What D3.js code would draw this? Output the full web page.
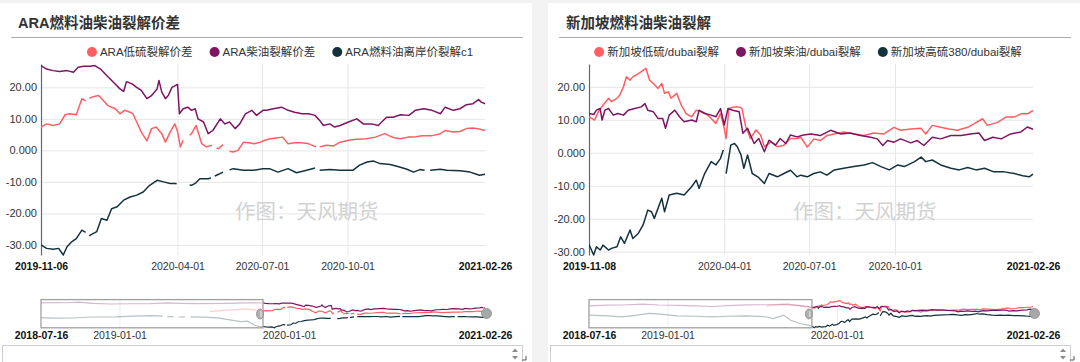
<!DOCTYPE html>
<html>
<head>
<meta charset="utf-8">
<script src="https://cdn.jsdelivr.net/npm/d3@7"></script>
<style>
  body { margin: 0; background: #f3f3f3; overflow: hidden; }
  svg { display: block; font-family: Arial, "Liberation Sans", "Noto Sans CJK SC", sans-serif; }
</style>
</head>
<body>
<svg id="chart" width="1080" height="362"></svg>
<script>
// Two crack-spread panels (ARA / Singapore), each with a date-zoom slider underneath.
// Series are [days since window start, value]; null breaks the line.

const HIST_START = "2018-07-16";
const END_DATE = "2021-02-26";

const LEFT_TITLE = "ARA燃料油柴油裂解价差";
const LEFT_NAMES = ["ARA低硫裂解价差", "ARA柴油裂解价差", "ARA燃料油离岸价裂解c1"];
const LEFT_START = "2019-11-06";
const LEFT_TICKS = ["2019-11-06", "2020-04-01", "2020-07-01", "2020-10-01", "2021-02-26"];

const RIGHT_TITLE = "新加坡燃料油柴油裂解";
const RIGHT_NAMES = ["新加坡低硫/dubai裂解", "新加坡柴油/dubai裂解", "新加坡高硫380/dubai裂解"];
const RIGHT_START = "2019-11-08";
const RIGHT_TICKS = ["2019-11-08", "2020-04-01", "2020-07-01", "2020-10-01", "2021-02-26"];

const SLIDER_TICKS = ["2018-07-16", "2019-01-01", "2020-01-01", "2021-02-26"];
const Y_TICKS = [-30, -20, -10, 0, 10, 20];
const Y_LABELS = ["-30.00", "-20.00", "-10.00", "0.000", "10.00", "20.00"];
const LEFT_Y = [-33.2, 27.4];
const RIGHT_Y = [-31.0, 26.9];
const LEFT_SLIDER_Y = [-33.2, 35.1];
const RIGHT_SLIDER_Y = [-31.0, 27.7];

const COLORS = ["#ff5e62", "#7e1563", "#14323d"];
const WATERMARK = "作图：天风期货";

// --- ARA, days since 2019-11-06 ---
const ARA_LOW = [[0,7.4],[6,8.4],[13,7.9],[20,8.4],[26,11.3],[31,11.6],[38,11.3],[44,16.4],[48,15.6],[50,null],[52,16.5],[55,16.9],[62,17.4],[67,15.8],[72,14.2],[80,13.2],[85,11.6],[90,12.7],[96,12.1],[99,11.6],[103,9],[108,5.8],[114,3],[119,6.9],[124,7.4],[130,5.3],[134,2.6],[139,5.8],[144,8.4],[147,6],[150,1.1],[153,3.2],[156,null],[160,4.8],[162,5.3],[167,7.9],[173,2.1],[178,1.1],[184,1.6],[186,null],[189,0.8],[191,0.5],[196,1.8],[198,null],[203,-0.3],[207,-0.5],[212,0],[218,2.6],[224,2.4],[229,2.1],[236,2.6],[241,3.2],[247,3.7],[255,4.0],[260,4.2],[266,2.1],[273,2.4],[280,2.4],[287,2.2],[293,1.5],[296,1.1],[298,null],[300,1.1],[307,1.6],[315,1.4],[322,2.6],[331,3.2],[340,3.5],[350,3.7],[360,4.2],[370,5.3],[375,4.6],[380,4.0],[387,3.7],[395,4.2],[401,4.2],[410,4.6],[420,4.6],[430,5.3],[435,6.3],[444,5.8],[451,6.0],[458,6.9],[465,7.1],[472,6.8],[478,6.3]];
const ARA_DIESEL = [[0,26.9],[6,25.8],[13,25.3],[20,25],[28,25.3],[35,24.8],[40,26.4],[46,26.7],[53,26.7],[58,26.9],[64,25.8],[71,23.7],[78,21.6],[85,19.5],[89,18.7],[92,21.8],[98,21.1],[103,20],[108,19],[114,16.4],[119,17.4],[125,19.5],[127,22.2],[130,18.5],[134,16.4],[137,17.4],[141,20],[146,20.8],[147,20.9],[149,11.6],[153,13.2],[158,13.7],[162,12.7],[166,13.2],[169,10],[175,9],[180,5.3],[185,6.3],[193,10],[198,8.4],[203,9],[209,6.9],[214,8.4],[220,11.6],[227,12.7],[232,11.1],[239,12.7],[243,12.7],[250,13.2],[259,13.7],[266,12.7],[273,12.1],[281,11.6],[288,11.6],[295,11.1],[300,9.5],[304,7.9],[311,8.4],[316,7.4],[322,7.9],[331,9],[340,10],[347,8.4],[356,8.4],[363,7.9],[372,10.5],[379,10.5],[387,11.3],[396,11.1],[403,12.7],[412,13.2],[421,12.7],[430,11.6],[435,13.7],[444,12.7],[451,13.2],[458,14.5],[465,14.8],[471,16.1],[474,15.3],[478,14.8]];
const ARA_FO = [[0,-30],[6,-31.1],[13,-31.4],[19,-31.1],[24,-33.2],[28,-30.6],[33,-29],[38,-28],[44,-25.3],[48,-26],[49,null],[52,-27.2],[53,-26.9],[60,-25.8],[65,-21.6],[71,-22.2],[76,-18.5],[82,-17.9],[89,-15.8],[96,-14.8],[103,-14.2],[110,-13.2],[117,-11.1],[125,-9.5],[132,-10],[139,-10.5],[144,-10.5],[146,-10.6],[147,null],[160,-11],[162,-11.1],[166,-10.5],[171,-9],[180,-9],[183,-8.8],[184,null],[187,-8.2],[189,-7.9],[196,-6.9],[198,null],[203,-6.2],[207,-5.8],[218,-6.3],[229,-6.3],[239,-5.8],[246,-5.8],[255,-6.9],[266,-5.8],[275,-7.1],[286,-6.3],[295,-5.6],[297,null],[300,-6.3],[311,-6.1],[322,-6.3],[336,-6.3],[343,-4.7],[351,-3.7],[358,-3.4],[365,-4.2],[376,-4.5],[386,-5.3],[394,-6],[401,-6.9],[408,-6.1],[413,-6.3],[414,null],[419,-6.3],[430,-6],[437,-6.3],[451,-6.5],[462,-6.9],[472,-7.9],[478,-7.6]];

// --- ARA history for the slider, days since 2018-07-16 ---
const ARA_LOW_HIST = [[363,6.2],[380,8],[400,9.5],[420,11],[440,12.5],[460,10],[478,7.4]];
const ARA_DIESEL_HIST = [[0,27],[27,28],[56,27.5],[81,29],[111,26],[150,24.5],[190,25],[237,25.5],[270,27],[300,26],[340,25.5],[400,26],[440,27],[478,26.9]];
const ARA_FO_HIST = [[0,-8.5],[27,-10],[64,-9.5],[111,-7],[160,-6.5],[200,-5],[237,-3.8],[262,-5],[264,null],[272,-6],[285,-6.2],[287,null],[296,-7],[310,-6.8],[312,null],[322,-6.5],[350,-7.5],[380,-9],[410,-14.6],[430,-18],[445,-17],[460,-27],[470,-30],[478,-30]];

// --- Singapore, days since 2019-11-08 ---
const SG_LOW = [[0,10.9],[3,10.4],[6,9.9],[10,12.4],[15,14.4],[21,16.5],[24,15.5],[30,16.5],[33,17.5],[37,20],[40,23],[44,22],[47,23],[53,24],[58,25],[61,25.6],[65,22],[69,21],[74,19.5],[78,21],[81,18],[85,18.5],[88,16.5],[94,18],[99,14.4],[104,11.9],[110,10.9],[115,12.9],[120,12.4],[125,11.9],[131,10.4],[136,8.9],[141,11.9],[145,7.4],[147,4.3],[150,13.4],[156,13.9],[161,13.9],[164,13.4],[168,7.9],[173,4.3],[179,6.9],[184,5.4],[188,1.8],[195,3.3],[202,1.8],[209,2.3],[216,4.3],[223,4.3],[227,4.7],[234,1.7],[241,4.2],[248,3.7],[255,5.2],[263,5.7],[273,6.3],[284,5.7],[295,5.2],[305,6],[316,5.7],[327,7.7],[334,6.8],[345,7.2],[356,7.4],[361,5.7],[368,8.3],[377,7.7],[386,7.2],[395,6.8],[406,7.7],[413,8.8],[422,10.3],[427,8.3],[438,9.2],[447,10.8],[456,10.8],[463,11.8],[470,11.8],[476,12.8]];
const SG_GASOIL = [[0,11.9],[5,11.6],[8,12.9],[12,13.4],[14,9.9],[17,12.9],[21,13.4],[26,11.4],[31,11.9],[37,11.4],[42,12.9],[49,13.4],[56,13.9],[60,14.9],[63,12.9],[69,12.4],[74,10.4],[79,10.4],[82,7.4],[86,11.4],[92,12.9],[97,10.9],[102,9.4],[110,9.9],[115,9.4],[118,12.9],[124,11.9],[131,11.4],[136,10.9],[141,13.4],[145,8.4],[149,13.4],[154,12.9],[161,12.4],[165,5.9],[170,7.4],[177,2.8],[182,4.3],[188,0.3],[193,3.8],[200,2.3],[205,4.3],[211,2.8],[216,5.4],[223,4.8],[230,5.4],[238,5.7],[248,5.2],[259,6.8],[270,5.7],[280,6],[291,5.2],[302,4.7],[309,4.2],[315,2.2],[320,3.7],[327,3.2],[334,4.2],[345,3],[352,3.7],[359,2.2],[368,4.7],[377,4.2],[388,5.2],[399,5.2],[409,5.7],[418,6],[424,3.7],[433,4.7],[442,4.2],[452,5.7],[463,6.3],[470,7.8],[476,7.1]];
const SG_HSFO = [[0,-27.8],[5,-31],[8,-28.5],[12,-29.5],[15,-28],[21,-29.5],[24,-29],[30,-28.5],[34,-25.5],[38,-27.5],[44,-23.4],[47,-26],[53,-24.4],[58,-21.9],[63,-17.4],[67,-17.9],[70,-19.9],[78,-13.8],[81,-17.9],[86,-12.8],[94,-12.3],[102,-12.8],[110,-10.3],[115,-8.3],[118,-10.8],[124,-6.3],[131,-2.7],[136,-3.7],[141,-1.7],[144,0.8],[145,null],[147,-6.3],[152,2.3],[156,2.8],[159,1.8],[163,-0.7],[166,-4.7],[170,-0.7],[175,-6.3],[181,-7.3],[188,-9.3],[193,-6.3],[202,-7.3],[209,-6.3],[216,-5.3],[223,-7.3],[227,-6.8],[234,-7.3],[241,-6.3],[248,-5.8],[255,-6.8],[263,-5.2],[273,-4.7],[284,-4.2],[295,-3.7],[304,-3],[313,-4.2],[322,-5.2],[331,-3.7],[338,-4.2],[349,-2.7],[356,-1.3],[361,-2.7],[368,-2.2],[377,-3.7],[388,-4.7],[397,-5.2],[406,-4.5],[415,-5.2],[424,-4.7],[434,-5.8],[445,-5.8],[456,-6.3],[465,-7],[472,-7.3],[476,-6.5]];

// --- Singapore history for the slider, days since 2018-07-16 ---
const SG_LOW_HIST = [[382,14],[400,15.5],[420,17],[450,15],[480,10.9]];
const SG_GASOIL_HIST = [[0,14.8],[40,16],[71,16.5],[116,18.4],[150,16.5],[190,15.5],[230,14.5],[264,13.3],[300,15],[338,16.9],[380,17],[427,18.3],[455,15],[480,11.9]];
const SG_HSFO_HIST = [[0,-4.6],[40,-6],[71,-8.1],[100,-5],[130,-1],[160,-3],[190,-6],[230,-7],[264,-8.1],[300,-7],[338,-6],[380,-8],[397,-11.7],[419,-4.6],[434,-15.3],[456,-22.5],[470,-25],[480,-27.8]];

const parse = d3.timeParse("%Y-%m-%d");
const fmt = d3.timeFormat("%Y-%m-%d");
const toPoints = (base, pairs) => {
  const b = parse(base);
  return pairs.map(([d, v]) => ({ date: d3.timeDay.offset(b, d), v }));
};

const svg = d3.select("#chart");
svg.append("rect").attr("width", 1080).attr("height", 362).attr("fill", "#f3f3f3");

const panels = [
  { ox: 0, title: LEFT_TITLE, names: LEFT_NAMES, start: LEFT_START, ticks: LEFT_TICKS,
    series: [ARA_LOW, ARA_DIESEL, ARA_FO], hist: [ARA_LOW_HIST, ARA_DIESEL_HIST, ARA_FO_HIST],
    yDomain: LEFT_Y, sliderDomain: LEFT_SLIDER_Y, legendCx: 280, markX: 235 },
  { ox: 548, title: RIGHT_TITLE, names: RIGHT_NAMES, start: RIGHT_START, ticks: RIGHT_TICKS,
    series: [SG_LOW, SG_GASOIL, SG_HSFO], hist: [SG_LOW_HIST, SG_GASOIL_HIST, SG_HSFO_HIST],
    yDomain: RIGHT_Y, sliderDomain: RIGHT_SLIDER_Y, legendCx: 808, markX: 793 },
];

panels.forEach((p, pi) => drawPanel(p, pi));

function drawPanel(p, pi) {
  const ox = p.ox;
  const g = svg.append("g");
  const left = ox + 41, right = ox + 485, top = 64, bottom = 255;

  g.append("rect").attr("x", ox).attr("y", 3).attr("width", 532).attr("height", 362).attr("fill", "#fff");

  // title + rule
  g.append("text").attr("x", ox + 18).attr("y", 28)
    .attr("font-size", 14.5).attr("font-weight", "bold").attr("fill", "#333").text(p.title);
  g.append("line").attr("x1", ox + 11).attr("x2", ox + 523).attr("y1", 37.5).attr("y2", 37.5)
    .attr("stroke", "#aaa").attr("stroke-width", 1);

  // legend
  const lg = g.append("g");
  let cx = 0;
  p.names.forEach((name, i) => {
    const item = lg.append("g").attr("transform", `translate(${cx},0)`);
    item.append("circle").attr("cx", 5).attr("cy", 52).attr("r", 5).attr("fill", COLORS[i]);
    const t = item.append("text").attr("x", 13).attr("y", 56).attr("font-size", 11.5)
      .attr("fill", "#333").text(name);
    cx += 13 + t.node().getComputedTextLength() + 17;
  });
  const lw = cx - 17;
  lg.attr("transform", `translate(${p.legendCx - lw / 2},0)`);

  // scales
  const x = d3.scaleTime().domain([parse(p.start), parse(END_DATE)]).range([left, right]);
  const y = d3.scaleLinear().domain(p.yDomain).range([bottom, top]);
  const tickDates = p.ticks.map(parse);

  // grid
  g.append("g").attr("transform", `translate(${left},0)`)
    .call(d3.axisLeft(y).tickValues(Y_TICKS).tickSize(-(right - left)).tickFormat(""))
    .call(a => a.select(".domain").remove())
    .selectAll("line").attr("stroke", "#e6e6e6");
  g.append("g").attr("transform", `translate(0,${bottom})`)
    .call(d3.axisBottom(x).tickValues(tickDates.slice(1, -1)).tickSize(-(bottom - top)).tickFormat(""))
    .call(a => a.select(".domain").remove())
    .selectAll("line").attr("stroke", "#e6e6e6");

  // watermark
  g.append("text").attr("x", ox === 0 ? p.markX : p.markX).attr("y", 219)
    .attr("font-size", 20.5).attr("fill", "#d2d2d2").text(WATERMARK);

  // y axis
  const ya = g.append("g").attr("transform", `translate(${left},0)`)
    .call(d3.axisLeft(y).tickValues(Y_TICKS).tickFormat((d, i) => Y_LABELS[i])
      .tickSize(0).tickSizeOuter(0).tickPadding(4));
  ya.select(".domain").attr("stroke", "#666").attr("stroke-width", 1.2);
  ya.selectAll("text").attr("font-size", 11).attr("fill", "#333")
    .style("font-family", "Arial, 'Liberation Sans', sans-serif");

  // x axis labels
  const xa = g.append("g").attr("transform", `translate(0,${bottom})`)
    .call(d3.axisBottom(x).tickValues(tickDates).tickFormat(fmt).tickSize(0).tickPadding(8));
  xa.select(".domain").remove();
  xa.selectAll("text").attr("font-size", 10.5).attr("fill", "#333")
    .style("font-family", "Arial, 'Liberation Sans', sans-serif")
    .attr("font-weight", (d, i) => (i === 0 || i === tickDates.length - 1) ? "bold" : "normal")
    .attr("fill", (d, i) => (i === 0 || i === tickDates.length - 1) ? "#111" : "#333");

  // lines
  const clipId = `clip${pi}`;
  g.append("clipPath").attr("id", clipId).append("rect")
    .attr("x", left).attr("y", top - 2).attr("width", right - left + 2).attr("height", bottom - top + 4);
  const line = d3.line().defined(d => d.v !== null).x(d => x(d.date)).y(d => y(d.v));
  const lines = g.append("g").attr("clip-path", `url(#${clipId})`);
  p.series.forEach((s, i) => {
    lines.append("path").datum(toPoints(p.start, s))
      .attr("d", line).attr("fill", "none").attr("stroke", COLORS[i])
      .attr("stroke-width", 1.5).attr("stroke-linejoin", "round");
  });

  // --- slider ---
  const sTop = 299.6, sBottom = 327.8;
  const sx = d3.scaleTime().domain([parse(HIST_START), parse(END_DATE)]).range([left, right]);
  const sy = d3.scaleLinear().domain(p.sliderDomain).range([sBottom, sTop]);
  const sliderDates = SLIDER_TICKS.map(parse);

  g.append("g").attr("transform", `translate(0,${sBottom})`)
    .call(d3.axisBottom(sx).tickValues(sliderDates.slice(1, -1)).tickSize(-(sBottom - sTop)).tickFormat(""))
    .call(a => a.select(".domain").remove())
    .selectAll("line").attr("stroke", "#eeeeee");

  const sline = d3.line().defined(d => d.v !== null).x(d => sx(d.date)).y(d => sy(d.v));
  p.hist.forEach((h, i) => {
    g.append("path").datum(toPoints(HIST_START, h))
      .attr("d", sline).attr("fill", "none").attr("stroke", COLORS[i])
      .attr("stroke-opacity", 0.3).attr("stroke-width", 1.2);
  });
  p.series.forEach((s, i) => {
    g.append("path").datum(toPoints(p.start, s))
      .attr("d", sline).attr("fill", "none").attr("stroke", COLORS[i]).attr("stroke-width", 1.2);
  });

  const winX = sx(parse(p.start));
  g.append("rect").attr("x", left).attr("y", sTop).attr("width", winX - left).attr("height", sBottom - sTop)
    .attr("fill", "none").attr("stroke", "#a0a0a0").attr("stroke-width", 1.3);
  // handles
  g.append("ellipse").attr("cx", winX - 3).attr("cy", 314).attr("rx", 3.5).attr("ry", 5)
    .attr("fill", "#b0b0b0").attr("stroke", "#8a8a8a").attr("stroke-width", 0.8);
  g.append("line").attr("x1", winX - 2).attr("x2", winX - 2).attr("y1", 311).attr("y2", 317)
    .attr("stroke", "#fff").attr("stroke-width", 0.8);
  g.append("circle").attr("cx", right + 1.5).attr("cy", 313.5).attr("r", 5)
    .attr("fill", "#a8a8a8").attr("stroke", "#8a8a8a").attr("stroke-width", 0.8);

  const sa = g.append("g").attr("transform", `translate(0,${sBottom})`)
    .call(d3.axisBottom(sx).tickValues(sliderDates).tickFormat(fmt).tickSize(0).tickPadding(4));
  sa.select(".domain").remove();
  sa.selectAll("text").attr("font-size", 10.5)
    .style("font-family", "Arial, 'Liberation Sans', sans-serif")
    .attr("font-weight", (d, i) => (i === 0 || i === sliderDates.length - 1) ? "bold" : "normal")
    .attr("fill", (d, i) => (i === 0 || i === sliderDates.length - 1) ? "#111" : "#333");

  // input box under the chart
  g.append("rect").attr("x", ox + 2.5).attr("y", 345.5).attr("width", 520).attr("height", 20)
    .attr("fill", "#fff").attr("stroke", "#cfcfcf");
  g.append("path").attr("d", `M${ox + 512},${352} l3,-3.5 l3,3.5 Z M${ox + 512},${356} l3,3.5 l3,-3.5 Z`)
    .attr("fill", "#8c8c8c");
  g.append("path").attr("d", `M${ox + 526},${356} v4 h-4`).attr("fill", "none")
    .attr("stroke", "#555").attr("stroke-width", 1);
}
</script>
</body>
</html>
